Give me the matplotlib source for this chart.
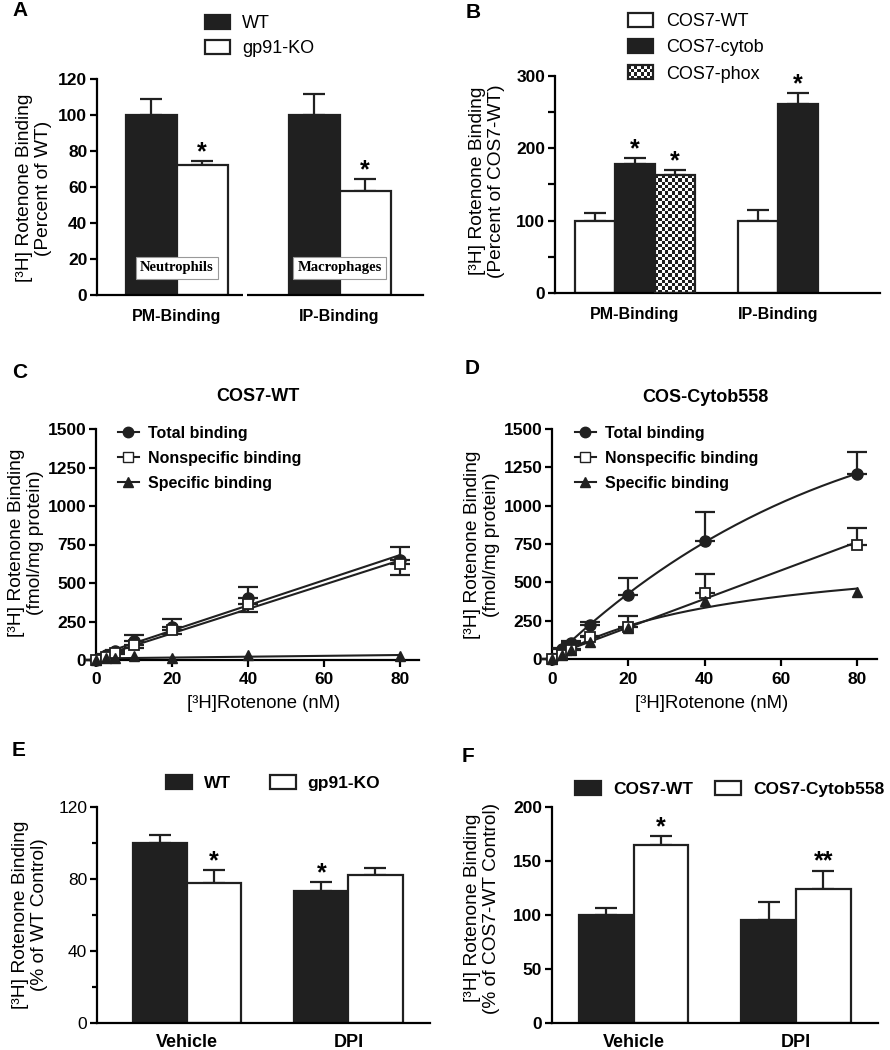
import numpy as np
import matplotlib
matplotlib.use('Agg')
import matplotlib.pyplot as plt
from matplotlib.patches import Patch, Rectangle
from matplotlib.lines import Line2D
from matplotlib.legend_handler import HandlerBase

plt.rcParams['font.family'] = ['Liberation Sans', 'DejaVu Sans']

# ---- data ----
a_groups = ['PM-Binding', 'IP-Binding']
a_cells = ['Neutrophils', 'Macrophages']
a_wt = [100, 100]
a_wt_err = [9, 11.5]
a_ko = [72, 58]
a_ko_err = [2.5, 6.5]

b_groups = ['PM-Binding', 'IP-Binding']
b_wt = [100, 100]
b_wt_err = [10, 15]
b_cytob = [178, 261]
b_cytob_err = [8, 15]
b_phox = [163]
b_phox_err = [7]

conc = [0, 2.5, 5, 10, 20, 40, 80]
c_total = [0, 32, 58, 123, 216, 400, 652]
c_total_err = [0, 8, 10, 38, 48, 72, 80]
c_nonspec = [0, 22, 45, 95, 196, 366, 625]
c_nonspec_err = [0, 5, 8, 15, 25, 52, 75]
c_spec = [0, 10, 12, 26, 10, 30, 28]

d_total = [0, 65, 104, 220, 420, 772, 1207]
d_total_err = [0, 10, 15, 20, 108, 185, 143]
d_nonspec = [0, 28, 57, 141, 209, 430, 741]
d_nonspec_err = [0, 5, 8, 12, 69, 124, 113]
d_spec = [0, 28, 57, 112, 200, 380, 440]

e_groups = ['Vehicle', 'DPI']
e_wt = [100, 73.5]
e_wt_err = [4.6, 4.8]
e_ko = [78, 82]
e_ko_err = [7, 4]

f_groups = ['Vehicle', 'DPI']
f_wt = [100, 95]
f_wt_err = [6.5, 17]
f_cyt = [165, 124]
f_cyt_err = [8, 17]

DARK = '#202020'
LW = 1.6

fig = plt.figure(figsize=(8.9, 10.5), dpi=100)


def ax_px(left, right, top, bottom):
    return fig.add_axes([left / 890, 1 - bottom / 1050, (right - left) / 890, (bottom - top) / 1050])


def style(ax):
    for s in ['top', 'right']:
        ax.spines[s].set_visible(False)
    for s in ['left', 'bottom']:
        ax.spines[s].set_linewidth(LW)
    ax.tick_params(width=LW, length=5, direction='out', pad=2)


def ylab(x, y, text):
    fig.text(x / 890, 1 - y / 1050, text, rotation=90, ha='center', va='center',
             fontsize=13.8, linespacing=1.2)


def letter(x, y, s):
    fig.text(x / 890, 1 - y / 1050, s, fontsize=15, fontweight='bold', ha='left', va='center')


def star(ax, x, y, s='*'):
    ax.annotate(s, (x, y), xytext=(0, 1.5), textcoords='offset points', ha='center',
                va='baseline', fontsize=18, fontweight='bold')


def bar_err(ax, x, vals, errs):
    ax.errorbar(x, vals, yerr=[np.zeros(len(errs)), errs], fmt='none', ecolor=DARK,
                elinewidth=LW, capsize=8, capthick=LW, zorder=1)


class CheckerHandler(HandlerBase):
    def create_artists(self, legend, orig_handle, xdescent, ydescent, width, height, fontsize, trans):
        arts = [Rectangle((-xdescent, -ydescent), width, height, facecolor='white', lw=0, transform=trans)]
        nx, ny = 8, 4
        cw, ch = width / nx, height / ny
        for i in range(nx):
            for j in range(ny):
                if (i + j) % 2:
                    arts.append(Rectangle((-xdescent + i * cw, -ydescent + j * ch), cw, ch,
                                          facecolor=DARK, lw=0, transform=trans))
        arts.append(Rectangle((-xdescent, -ydescent), width, height, facecolor='none',
                              edgecolor=DARK, lw=LW, transform=trans))
        return arts


# ---------------- A ----------------
ax = ax_px(97, 423, 79, 295)
style(ax)
xa = np.arange(len(a_groups))
w = 0.313
bw = ax.bar(xa - w / 2, a_wt, w, color=DARK, edgecolor=DARK, lw=LW, zorder=2, label='WT')
bk = ax.bar(xa + w / 2, a_ko, w, color='white', edgecolor=DARK, lw=LW, zorder=2, label='gp91-KO')
bar_err(ax, xa - w / 2, a_wt, a_wt_err)
bar_err(ax, xa + w / 2, a_ko, a_ko_err)
for i in range(len(xa)):
    star(ax, xa[i] + w / 2, a_ko[i] + a_ko_err[i])
    ax.text(xa[i], 15, a_cells[i], ha='center', va='center', fontsize=10.5,
            fontfamily='Liberation Serif', fontweight='bold', zorder=5,
            bbox=dict(boxstyle='square,pad=0.28', facecolor='white', edgecolor='#999999', lw=0.8))
ax.set_xlim(-0.488, 1.512)
ax.set_ylim(0, 120)
ax.set_yticks(np.arange(0, 121, 20))
ax.set_xticks(xa)
ax.set_xticklabels(a_groups, fontsize=11.5, fontweight='bold')
ax.tick_params(axis='x', length=0, pad=10)
for t in ax.get_yticklabels():
    t.set_fontsize(12.5)
    t.set_fontweight('bold')
ax.add_patch(Rectangle((0.41, -0.02), 0.02, 0.04, transform=ax.get_xaxis_transform(),
                       facecolor='white', edgecolor='none', clip_on=False, zorder=6))
ax.legend(handles=[bw, bk], loc='upper left', bbox_to_anchor=(205 / 890, 1 - 15 / 1050),
          bbox_transform=fig.transFigure, frameon=False, borderpad=0, borderaxespad=0,
          handlelength=1.4, handleheight=0.8, handletextpad=0.65, labelspacing=0.45, fontsize=13)
ylab(34, 188, '[³H] Rotenone Binding\n(Percent of WT)')
letter(12, 10, 'A')

# ---------------- B ----------------
ax = ax_px(555, 880, 76, 293)
style(ax)
w = 0.245
xb = np.arange(len(b_groups))
h1 = ax.bar(xb - w, b_wt, w, color='white', edgecolor=DARK, lw=LW, zorder=2)
h2 = ax.bar(xb, b_cytob, w, color=DARK, edgecolor=DARK, lw=LW, zorder=2)
xp = xb[:len(b_phox)] + w
h3 = ax.bar(xp, b_phox, w, color='none', edgecolor=DARK, lw=LW, zorder=3)
bar_err(ax, xb - w, b_wt, b_wt_err)
bar_err(ax, xb, b_cytob, b_cytob_err)
bar_err(ax, xp, b_phox, b_phox_err)
ax.set_xlim(-0.491, 1.503)
ax.set_ylim(0, 300)
for i in range(len(xb)):
    star(ax, xb[i], b_cytob[i] + b_cytob_err[i])
for i in range(len(xp)):
    star(ax, xp[i], b_phox[i] + b_phox_err[i])
for r in h3.patches:
    x0, hh, ww = r.get_x(), r.get_height(), r.get_width()
    p0 = ax.transData.transform((x0, 0))
    p1 = ax.transData.transform((x0 + ww, hh))
    nc = int(round((p1[0] - p0[0]) / 3.3))
    nr = int(round((p1[1] - p0[1]) / 3.3))
    chk = np.add.outer(np.arange(nr), np.arange(nc)) % 2
    ax.imshow(chk, cmap='gray_r', extent=(x0, x0 + ww, 0, hh), aspect='auto',
              interpolation='nearest', origin='lower', zorder=2, vmin=0, vmax=1.15)
ax.set_xlim(-0.491, 1.503)
ax.set_ylim(0, 300)
ax.set_yticks(np.arange(0, 301, 50))
ax.set_yticklabels([str(v) if v % 100 == 0 else '' for v in range(0, 301, 50)])
for t in ax.get_yticklabels():
    t.set_fontsize(12.5)
    t.set_fontweight('bold')
ticks_b = [np.mean(([xb[i] - w, xb[i]] + ([xb[i] + w] if i < len(b_phox) else []))) for i in range(len(xb))]
ax.set_xticks(ticks_b)
ax.set_xticklabels(b_groups, fontsize=11.5, fontweight='bold')
ax.tick_params(axis='x', length=0, pad=10)
phox_handle = Patch(facecolor='white', edgecolor=DARK)
ax.legend(handles=[h1, h2, phox_handle], labels=['COS7-WT', 'COS7-cytob', 'COS7-phox'],
          handler_map={phox_handle: CheckerHandler()},
          loc='upper left', bbox_to_anchor=(628 / 890, 1 - 13 / 1050),
          bbox_transform=fig.transFigure, frameon=False, borderpad=0, borderaxespad=0,
          handlelength=1.4, handleheight=0.8, handletextpad=0.7, labelspacing=0.5, fontsize=13)
ylab(487, 181, '[³H] Rotenone Binding\n(Percent of COS7-WT)')
letter(466, 12, 'B')


# ---------------- C & D ----------------
def fit_line(x, y):
    return np.polyfit(x, y, 1)


def fit_hyper(x, y, linear=False):
    best = None
    for kd in np.linspace(1, 300, 3000):
        cols = [x / (kd + x)] + ([x] if linear else [])
        A = np.column_stack(cols)
        sol = np.linalg.lstsq(A, y, rcond=None)[0]
        sse = np.sum((A @ sol - y) ** 2)
        if best is None or sse < best[0]:
            best = (sse, kd, sol)
    return best[1], best[2]


def binding_panel(ax, total, total_err, nonspec, nonspec_err, spec, ns_low, curves):
    x = np.array(conc, dtype=float)
    xs = np.linspace(0, 80, 200)
    for yv, fn in zip([total, nonspec, spec], curves):
        ax.plot(xs, fn(x, np.array(yv, dtype=float), xs), color=DARK, lw=1.5, zorder=2)
    ax.errorbar(x, total, yerr=[np.zeros(len(x)), total_err], fmt='none', ecolor=DARK,
                elinewidth=LW, capsize=7.5, capthick=LW, zorder=3, clip_on=False)
    ns_yerr = [nonspec_err, np.zeros(len(x))] if ns_low else [np.zeros(len(x)), nonspec_err]
    ax.errorbar(x, nonspec, yerr=ns_yerr, fmt='none', ecolor=DARK,
                elinewidth=LW, capsize=7.5, capthick=LW, zorder=3, clip_on=False)
    ax.plot(x, total, 'o', color=DARK, ms=8, zorder=4, clip_on=False)
    ax.plot(x, nonspec, 's', mfc='white', mec=DARK, mew=1.3, ms=7.5, zorder=4, clip_on=False)
    ax.plot(x, spec, '^', color=DARK, ms=7, zorder=4, clip_on=False)
    ax.set_ylim(0, 1500)
    ax.set_yticks(np.arange(0, 1501, 250))
    ax.set_xticks(np.arange(0, 81, 20))
    for t in ax.get_yticklabels() + ax.get_xticklabels():
        t.set_fontsize(12.5)
        t.set_fontweight('bold')
    ax.tick_params(axis='x', pad=4)
    hs = [Line2D([], [], color=DARK, lw=1.5, marker='o', ms=7.5),
          Line2D([], [], color=DARK, lw=1.5, marker='s', mfc='white', mec=DARK, ms=7.5),
          Line2D([], [], color=DARK, lw=1.5, marker='^', ms=7)]
    return hs


def lin(x, y, xs):
    c = fit_line(x, y)
    return np.polyval(c, xs)


def hyp(x, y, xs):
    kd, sol = fit_hyper(x, y)
    return sol[0] * xs / (kd + xs)


def hyp_lin(x, y, xs):
    kd, sol = fit_hyper(x, y, linear=True)
    return sol[0] * xs / (kd + xs) + sol[1] * xs


leg_labels = ['Total binding', 'Nonspecific binding', 'Specific binding']

ax = ax_px(96, 419, 429, 660)
style(ax)
hs = binding_panel(ax, c_total, c_total_err, c_nonspec, c_nonspec_err, c_spec, True, [lin, lin, lin])
ax.set_xlim(0, 85)
ax.legend(hs, leg_labels, loc='upper left', bbox_to_anchor=(118 / 890, 1 - 426 / 1050),
          bbox_transform=fig.transFigure, frameon=False, borderpad=0, borderaxespad=0,
          handlelength=1.3, handletextpad=0.6, labelspacing=0.62, numpoints=1,
          prop={'size': 11.5, 'weight': 'bold'})
fig.text(258 / 890, 1 - 397 / 1050, 'COS7-WT', ha='center', va='center', fontsize=13, fontweight='bold')
fig.text(264 / 890, 1 - 703 / 1050, '[³H]Rotenone (nM)', ha='center', va='center', fontsize=13.3)
ylab(26, 543, '[³H] Rotenone Binding\n(fmol/mg protein)')
letter(12, 372, 'C')

ax = ax_px(552, 877, 429, 659)
style(ax)
hs = binding_panel(ax, d_total, d_total_err, d_nonspec, d_nonspec_err, d_spec, False, [hyp_lin, lin, hyp])
ax.set_xlim(0, 85.2)
ax.legend(hs, leg_labels, loc='upper left', bbox_to_anchor=(575 / 890, 1 - 426 / 1050),
          bbox_transform=fig.transFigure, frameon=False, borderpad=0, borderaxespad=0,
          handlelength=1.3, handletextpad=0.6, labelspacing=0.62, numpoints=1,
          prop={'size': 11.5, 'weight': 'bold'})
fig.text(705 / 890, 1 - 398 / 1050, 'COS-Cytob558', ha='center', va='center', fontsize=13, fontweight='bold')
fig.text(712 / 890, 1 - 703 / 1050, '[³H]Rotenone (nM)', ha='center', va='center', fontsize=13.3)
ylab(482, 545, '[³H] Rotenone Binding\n(fmol/mg protein)')
letter(465, 369, 'D')

# ---------------- E ----------------
ax = ax_px(97, 430, 807, 1023)
style(ax)
xe = np.arange(len(e_groups))
w = 0.335
be1 = ax.bar(xe - w / 2, e_wt, w, color=DARK, edgecolor=DARK, lw=LW, zorder=2)
be2 = ax.bar(xe + w / 2, e_ko, w, color='white', edgecolor=DARK, lw=LW, zorder=2)
bar_err(ax, xe - w / 2, e_wt, e_wt_err)
bar_err(ax, xe + w / 2, e_ko, e_ko_err)
star(ax, xe[0] + w / 2, e_ko[0] + e_ko_err[0])
star(ax, xe[1] - w / 2, e_wt[1] + e_wt_err[1])
ax.set_xlim(-0.557, 1.505)
ax.set_ylim(0, 120)
ax.set_yticks(np.arange(0, 121, 40))
ax.set_yticks(np.arange(20, 121, 40), minor=True)
ax.tick_params(axis='y', which='minor', length=3.5, width=LW)
ax.set_yticklabels([str(v) for v in range(0, 121, 40)], fontsize=12.5)
ax.set_xticks(xe)
ax.set_xticklabels(e_groups, fontsize=13, fontweight='bold')
ax.tick_params(axis='x', length=0, pad=8)
ax.legend([be1, be2], ['WT', 'gp91-KO'], ncol=2, loc='upper left',
          bbox_to_anchor=(166 / 890, 1 - 775 / 1050), bbox_transform=fig.transFigure,
          frameon=False, borderpad=0, borderaxespad=0, handlelength=1.5, handleheight=0.85,
          handletextpad=0.7, columnspacing=2.2, prop={'size': 12.5, 'weight': 'bold'})
ylab(30, 915, '[³H] Rotenone Binding\n(% of WT Control)')
letter(12, 751, 'E')

# ---------------- F ----------------
ax = ax_px(552, 878, 807, 1023)
style(ax)
xf = np.arange(len(f_groups))
w = 0.338
bf1 = ax.bar(xf - w / 2, f_wt, w, color=DARK, edgecolor=DARK, lw=LW, zorder=2)
bf2 = ax.bar(xf + w / 2, f_cyt, w, color='white', edgecolor=DARK, lw=LW, zorder=2)
bar_err(ax, xf - w / 2, f_wt, f_wt_err)
bar_err(ax, xf + w / 2, f_cyt, f_cyt_err)
star(ax, xf[0] + w / 2, f_cyt[0] + f_cyt_err[0])
star(ax, xf[1] + w / 2, f_cyt[1] + f_cyt_err[1], '**')
ax.set_xlim(-0.502, 1.505)
ax.set_ylim(0, 200)
ax.set_yticks(np.arange(0, 201, 50))
for t in ax.get_yticklabels():
    t.set_fontsize(12.5)
    t.set_fontweight('bold')
ax.set_xticks(xf)
ax.set_xticklabels(f_groups, fontsize=13, fontweight='bold')
ax.tick_params(axis='x', length=0, pad=8)
ax.legend([bf1, bf2], ['COS7-WT', 'COS7-Cytob558'], ncol=2, loc='upper left',
          bbox_to_anchor=(575 / 890, 1 - 781 / 1050), bbox_transform=fig.transFigure,
          frameon=False, borderpad=0, borderaxespad=0, handlelength=1.5, handleheight=0.85,
          handletextpad=0.7, columnspacing=1.25, prop={'size': 12.5, 'weight': 'bold'})
ylab(482, 908, '[³H] Rotenone Binding\n(% of COS7-WT Control)')
letter(462, 757, 'F')

fig.savefig('out.png', dpi=100)
